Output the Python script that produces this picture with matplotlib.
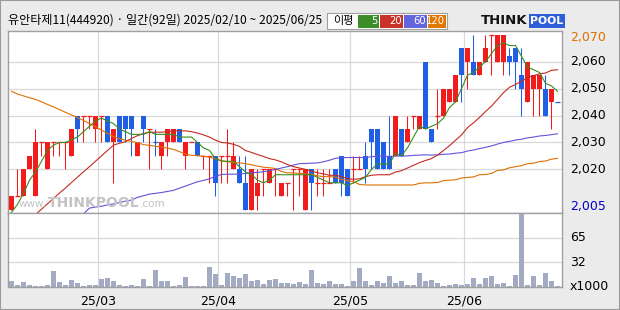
import matplotlib
matplotlib.use("Agg")
import matplotlib.pyplot as plt
from matplotlib.patches import Rectangle
import matplotlib.transforms as mtransforms
import numpy as np

plt.rcParams["font.family"] = ["Noto Sans CJK KR", "DejaVu Sans"]

TITLE = "유안타제11(444920) · 일간(92일) 2025/02/10 ~ 2025/06/25"

# daily candles, index 0 = 2025/02/10, index 91 = 2025/06/25
OPEN = [2005, 2010, 2010, 2020, 2010, 2030, 2020, 2030, 2030, 2030,
        2025, 2040, 2040, 2040, 2035, 2040, 2040, 2030, 2040, 2040,
        2040, 2025, 2040, 2035, 2030, 2025, 2030, 2030, 2035, 2025,
        2030, 2030, 2025, 2025, 2025, 2025, 2025, 2020, 2020, 2015,
        2005, 2010, 2020, 2015, 2020, 2010, 2015, 2020, 2020, 2005,
        2020, 2015, 2015, 2015, 2020, 2025, 2020, 2020, 2020, 2025,
        2035, 2035, 2030, 2025, 2025, 2035, 2030, 2040, 2035, 2060,
        2035, 2040, 2040, 2045, 2045, 2065, 2060, 2060, 2055, 2060,
        2070, 2060, 2060, 2062, 2065, 2055, 2045, 2050, 2050, 2050,
        2045, 2045]
CLOSE = [2010, 2010, 2020, 2025, 2030, 2030, 2030, 2030, 2030, 2030,
         2035, 2035, 2040, 2040, 2040, 2040, 2030, 2035, 2030, 2035,
         2035, 2030, 2035, 2035, 2030, 2030, 2035, 2035, 2030, 2030,
         2030, 2025, 2025, 2025, 2015, 2025, 2025, 2025, 2015, 2005,
         2020, 2015, 2020, 2020, 2020, 2015, 2015, 2020, 2020, 2020,
         2015, 2015, 2015, 2015, 2015, 2015, 2010, 2020, 2020, 2020,
         2030, 2020, 2020, 2020, 2040, 2025, 2035, 2040, 2040, 2035,
         2030, 2040, 2050, 2050, 2055, 2055, 2065, 2055, 2060, 2065,
         2070, 2070, 2070, 2060, 2060, 2050, 2060, 2055, 2055, 2040,
         2050, 2045]
HIGH = [2010, 2020, 2020, 2025, 2035, 2030, 2030, 2030, 2030, 2030,
        2035, 2040, 2040, 2040, 2040, 2040, 2040, 2035, 2040, 2040,
        2040, 2030, 2040, 2035, 2035, 2030, 2035, 2035, 2035, 2030,
        2030, 2030, 2025, 2025, 2025, 2025, 2035, 2030, 2025, 2025,
        2020, 2020, 2020, 2020, 2020, 2015, 2015, 2020, 2020, 2020,
        2020, 2020, 2020, 2020, 2020, 2025, 2020, 2025, 2025, 2030,
        2035, 2035, 2030, 2040, 2040, 2035, 2040, 2040, 2040, 2060,
        2035, 2050, 2050, 2050, 2055, 2065, 2065, 2070, 2060, 2070,
        2070, 2070, 2070, 2065, 2065, 2065, 2060, 2055, 2055, 2055,
        2050, 2045]
LOW = [2005, 2010, 2010, 2020, 2010, 2025, 2020, 2025, 2025, 2020,
       2025, 2030, 2030, 2035, 2030, 2030, 2030, 2015, 2030, 2030,
       2025, 2025, 2030, 2020, 2025, 2020, 2025, 2030, 2030, 2020,
       2030, 2025, 2020, 2015, 2010, 2015, 2015, 2020, 2015, 2005,
       2005, 2005, 2010, 2015, 2010, 2010, 2010, 2005, 2010, 2005,
       2005, 2010, 2010, 2015, 2015, 2010, 2010, 2015, 2020, 2015,
       2020, 2020, 2020, 2020, 2025, 2025, 2030, 2035, 2035, 2035,
       2030, 2035, 2040, 2045, 2045, 2045, 2050, 2055, 2055, 2060,
       2055, 2060, 2055, 2055, 2050, 2040, 2045, 2040, 2040, 2040,
       2035, 2045]
# volume, thousands of shares
VOLUME = [8.7, 3.0, 6.9, 3.0, 1.7, 1.7, 3.0, 21.2, 6.9, 3.0,
          9.5, 5.6, 1.7, 3.0, 3.0, 10.8, 12.1, 8.2, 3.0, 1.7,
          3.0, 1.7, 10.8, 1.7, 22.5, 8.2, 8.2, 1.7, 3.0, 13.4,
          1.7, 1.7, 1.7, 26.4, 17.3, 3.0, 18.6, 14.7, 12.1, 17.3,
          8.2, 9.5, 4.3, 9.5, 10.8, 5.6, 5.6, 4.3, 6.9, 4.3,
          22.5, 5.6, 4.3, 8.2, 4.3, 4.3, 1.7, 8.2, 25.1, 8.2,
          3.0, 8.2, 5.6, 14.7, 5.6, 8.2, 3.0, 3.0, 18.6, 8.2,
          9.5, 5.6, 1.7, 3.0, 4.3, 3.0, 4.3, 12.1, 4.3, 12.1,
          14.7, 4.3, 5.6, 1.7, 16.0, 95.3, 3.0, 14.7, 3.0, 18.6,
          8.2, 1.7]

nan = float("nan")
MA5 = [2004, 2007, 2011, 2016, 2019, 2023, 2027, 2029, 2030, 2030,
       2031, 2032, 2034, 2036, 2038, 2039, 2038, 2037, 2035, 2034,
       2033, 2033, 2033, 2034, 2033, 2033, 2033, 2033, 2032, 2032,
       2032, 2030, 2028, 2027, 2024, 2023, 2023, 2023, 2021, 2019,
       2018, 2016, 2015, 2016, 2018, 2018, 2018, 2018, 2018, 2018,
       2018, 2017, 2016, 2015, 2015, 2015, 2014, 2015, 2016, 2017,
       2020, 2022, 2022, 2022, 2026, 2025, 2028, 2032, 2036, 2035,
       2036, 2037, 2039, 2043, 2045, 2050, 2055, 2056, 2058, 2060,
       2063, 2066, 2067, 2066, 2066, 2062, 2058, 2057, 2056, 2052,
       2051, 2049]
MA20 = [nan, nan, nan, nan, 2003.2, 2005.2, 2007.2, 2009.2, 2011.2, 2013.1,
        2015.1, 2017.1, 2019.1, 2021.0, 2023.0, 2025.0, 2027.0, 2029.0, 2029.7, 2030.3,
        2031.5, 2032.5, 2033.3, 2033.8, 2033.8, 2033.8, 2034.0, 2034.3, 2034.3, 2034.3,
        2034.0, 2033.5, 2032.8, 2032.0, 2030.8, 2030.0, 2029.8, 2029.3, 2028.5, 2027.0,
        2026.3, 2025.5, 2024.8, 2024.0, 2023.5, 2022.8, 2021.8, 2021.0, 2020.5, 2020.0,
        2019.3, 2018.8, 2018.3, 2017.8, 2017.8, 2017.3, 2016.5, 2016.3, 2016.5, 2017.3,
        2017.8, 2018.0, 2018.0, 2018.0, 2019.0, 2019.5, 2020.5, 2021.5, 2022.5, 2023.3,
        2024.0, 2025.3, 2027.0, 2028.8, 2030.8, 2032.8, 2035.5, 2037.3, 2039.3, 2041.5,
        2043.5, 2046.0, 2048.5, 2050.5, 2051.5, 2052.8, 2054.0, 2054.8, 2055.5, 2055.8,
        2056.8, 2057.0]
MA60 = [nan, nan, nan, nan, nan, nan, nan, nan, nan, nan,
        nan, nan, 2003.5, 2005.6, 2006.0, 2006.3, 2006.8, 2007.2, 2007.7, 2008.2,
        2008.6, 2009.6, 2010.2, 2010.8, 2011.1, 2011.4, 2011.8, 2012.2, 2013.0, 2013.8,
        2014.6, 2015.4, 2015.9, 2016.5, 2017.4, 2018.1, 2018.2, 2018.2, 2018.3, 2018.5,
        2018.7, 2018.9, 2019.1, 2019.5, 2020.0, 2020.5, 2021.0, 2021.6, 2022.1, 2022.2,
        2022.3, 2022.4, 2022.8, 2023.4, 2024.1, 2024.3, 2024.4, 2024.4, 2024.4, 2024.4,
        2024.7, 2024.9, 2024.9, 2024.8, 2025.0, 2024.9, 2025.0, 2025.2, 2025.3, 2025.4,
        2025.3, 2025.4, 2025.6, 2025.7, 2026.0, 2026.2, 2026.8, 2027.2, 2027.7, 2028.2,
        2028.7, 2029.4, 2030.0, 2030.4, 2030.9, 2031.2, 2031.7, 2032.0, 2032.4, 2032.6,
        2032.9, 2033.2]
MA120 = [2049.0, 2048.0, 2047.3, 2046.6, 2046.0, 2045.1, 2044.1, 2043.2, 2042.2, 2041.2,
         2040.2, 2039.2, 2038.2, 2037.0, 2035.8, 2034.6, 2033.4, 2032.2, 2031.4, 2030.8,
         2030.4, 2029.9, 2029.2, 2028.9, 2028.6, 2028.3, 2027.9, 2027.4, 2026.6, 2025.6,
         2025.2, 2025.1, 2024.9, 2024.5, 2023.9, 2023.3, 2022.8, 2022.6, 2022.4, 2022.1,
         2021.7, 2021.2, 2020.8, 2020.6, 2020.3, 2019.2, 2018.7, 2018.7, 2018.5, 2018.3,
         2018.2, 2017.6, 2017.3, 2017.3, 2017.1, 2016.3, 2015.8, 2015.4, 2014.4, 2014.2,
         2014.2, 2014.2, 2014.2, 2014.2, 2014.2, 2014.2, 2014.2, 2014.2, 2014.8, 2015.0,
         2015.0, 2015.1, 2015.8, 2016.0, 2016.1, 2016.8, 2017.0, 2017.2, 2018.0, 2018.1,
         2018.5, 2019.6, 2019.8, 2020.6, 2021.0, 2021.4, 2022.1, 2022.3, 2022.9, 2023.1,
         2023.8, 2024.1]

MONTH_STARTS = [15, 35, 57, 76]          # first trading day of each month
MONTH_LABELS = ["25/03", "25/04", "25/05", "25/06"]
PRICE_GRID = [2020, 2030, 2040, 2050, 2060]
VOL_GRID = [32.5, 65]
VOL_LABELS = ["32", "65"]
MA_NAMES = ["5", "20", "60", "120"]

RED, BLUE = "#f21c1c", "#1f5fe6"
MA_COLORS = ["#3a8c1e", "#c42a22", "#6452dc", "#e07000"]
LEGEND_COLORS = ["#3c8c28", "#c83228", "#6464dc", "#e07800"]
GRID = "#d9d9d9"
FRAME = "#a0a0a0"

W, H = 620, 310


def fx(x):
    return x / W


def fy(y):
    return 1 - y / H


fig = plt.figure(figsize=(W / 100, H / 100), dpi=100, facecolor="#ebebeb")

L, R, T, MID, B = 7.7, 561.7, 31.0, 212.7, 287.3
ax = fig.add_axes([fx(L), fy(MID), (R - L) / W, (MID - T) / H])
axv = fig.add_axes([fx(L), fy(B), (R - L) / W, (B - MID) / H])

days = np.arange(len(CLOSE))
o, c, h, l = map(np.array, (OPEN, CLOSE, HIGH, LOW))
prev = np.r_[c[0], c[:-1]]
up = (c > o) | ((c == o) & (c >= prev))
colors = np.where(up, RED, BLUE)

for a in (ax, axv):
    a.set_facecolor("white")
    a.set_xlim(-0.63, 91.7)
    a.set_xticks([])
    a.set_yticks([])
    for s in a.spines.values():
        s.set_color(FRAME)
        s.set_linewidth(1.0)
    for m in MONTH_STARTS:
        a.axvline(m - 0.5, color=GRID, lw=0.9, zorder=0)

ax.set_ylim(2003.9, 2071.4)
for p in PRICE_GRID:
    ax.axhline(p, color=GRID, lw=0.9, zorder=0)

# watermark
wm = dict(color="#c4c4c4", va="center", zorder=0.5, family=["DejaVu Sans"])
fig.text(fx(19), fy(204), "www.", fontsize=7.5, **wm)
fig.text(fx(48), fy(203), "THINKPOOL", fontsize=10, weight="bold", **wm)
fig.text(fx(140), fy(204), ".com", fontsize=7.5, **wm)

# candles
ax.vlines(days, l, h, colors=colors, lw=0.75, zorder=2)
body = np.where(c == o, 0, c - o)
ax.bar(days, body, bottom=o, width=0.82, color=colors, lw=0, zorder=3)
doji = c == o
ax.hlines(c[doji], days[doji] - 0.41, days[doji] + 0.41, colors=colors[doji], lw=0.9, zorder=3)

for ma, col in zip([MA120, MA60, MA20, MA5], MA_COLORS[::-1]):
    ax.plot(days, ma, color=col, lw=0.8, zorder=4)

# volume
axv.set_ylim(0, 97.5)
for v in VOL_GRID:
    axv.axhline(v, color=GRID, lw=0.9, zorder=0)
axv.bar(days, VOLUME, width=0.78, color="#a3abc3", lw=0, zorder=2)

# right-hand labels
blend = mtransforms.blended_transform_factory(ax.transAxes, ax.transData)
lab = dict(fontsize=9, ha="left", va="center", family=["DejaVu Sans"])
for p in PRICE_GRID:
    ax.text(1.015, p, f"{p:,}", transform=blend, color="black", **lab)
hi, lo = max(HIGH), min(LOW)
ax.text(1.015, hi - 0.9, f"{hi:,}", transform=blend, color="#e07000", **lab)
ax.text(1.015, lo + 1.1, f"{lo:,}", transform=blend, color="#0000cc", **lab)

vblend = mtransforms.blended_transform_factory(axv.transAxes, axv.transData)
for v, t in zip(VOL_GRID, VOL_LABELS):
    axv.text(1.015, v, t, transform=vblend, color="black", **lab)
axv.text(1.015, 1.5, "x1000", transform=vblend, color="black", **lab)

xblend = mtransforms.blended_transform_factory(axv.transData, axv.transAxes)
for m, t in zip(MONTH_STARTS, MONTH_LABELS):
    axv.text(m - 0.5, -0.18, t, transform=xblend, ha="center", va="center",
             fontsize=9, family=["DejaVu Sans"])

# header: title, MA legend, logo
fig.text(fx(8), fy(20), TITLE, fontsize=8.7, va="center", ha="left")

fig.patches.append(Rectangle((fx(327), fy(29)), 120 / W, 16 / H, transform=fig.transFigure,
                             facecolor="white", edgecolor=FRAME, lw=0.8))
fig.text(fx(343), fy(21), "이평", fontsize=8, ha="center", va="center")
blocks = [(358, 379), (380, 403), (404, 427), (428, 446)]
for (x0, x1), name, col in zip(blocks, MA_NAMES, LEGEND_COLORS):
    fig.patches.append(Rectangle((fx(x0), fy(28)), (x1 - x0) / W, 13 / H,
                                 transform=fig.transFigure, facecolor=col, lw=0))
    fig.text(fx(x1 - 1), fy(21.5), name, color="white", fontsize=7.2, ha="right",
             va="center", family=["DejaVu Sans"])

fig.text(fx(481), fy(21), "THINK", fontsize=9.5, weight="bold", va="center",
         family=["DejaVu Sans"], color="#111111")
fig.patches.append(Rectangle((fx(529), fy(28)), 36 / W, 14 / H, transform=fig.transFigure,
                             facecolor="#2e5fd8", lw=0))
fig.text(fx(547), fy(21), "POOL", fontsize=7.8, weight="bold", va="center", ha="center",
         family=["DejaVu Sans"], color="white")

fig.patches.append(Rectangle((0, 0), 1, 1, transform=fig.transFigure, fill=False,
                             edgecolor="#9a9a9a", lw=1.5))

fig.savefig("out.png", dpi=100, facecolor=fig.get_facecolor())
